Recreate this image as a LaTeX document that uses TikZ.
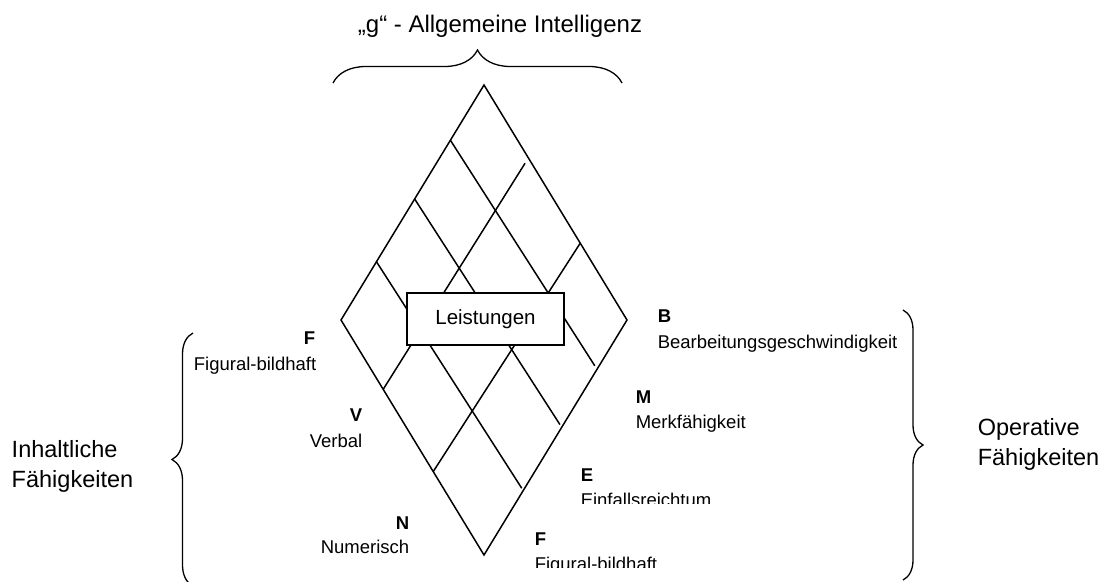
\documentclass[tikz,border=0pt]{standalone}
\usepackage{fontspec}
\setmainfont{Liberation Sans}
\usetikzlibrary{calc,decorations.pathreplacing,positioning}

\begin{document}
\begin{tikzpicture}[x=1pt, y=-1pt, line width=1.5pt,
  letter/.style = {inner sep=0pt, font=\fontsize{18.5}{25}\selectfont\bfseries},
  ability/.style = {inner sep=0pt, font=\fontsize{18.5}{25}\selectfont},
  group/.style = {inner sep=0pt, align=left, font=\fontsize{23.5}{30}\selectfont},
  bracket/.style = {decorate, decoration={brace, amplitude=#1}}]

  \useasboundingbox (0,0) rectangle (1102,581);

  \coordinate (t) at (484,85);
  \coordinate (r) at (627,320);
  \coordinate (b) at (484,555);
  \coordinate (l) at (341,320);

  \draw (t) -- (r) -- (b) -- (l) -- cycle;

  % grid inside the rhombus, u along t-r, v along t-l
  \begin{scope}[shift={(t)}, x={(143pt,-235pt)}, y={(-143pt,-235pt)}]
    \draw (0,0.235) -- (0.985,0.21) (0,0.485) -- (0.988,0.457) (0,0.752) -- (0.99,0.726);
    \draw (0.31,0.023) -- (0.295,1) (0.673,0) -- (0.645,1);
  \end{scope}

  \node[draw, fill=white, minimum width=157, minimum height=52,
        font=\fontsize{20.5}{25}\selectfont] (perf) at (485.5,319) {Leistungen};

  \node[anchor=base, font=\fontsize{24}{30}\selectfont] (g) at (500,32) {„g“ - Allgemeine Intelligenz};
  \draw[bracket=33pt, line width=1.3pt] (333,83) -- (622,83);

  \node[group, anchor=north west] (content) at (11,440) {Inhaltliche\\Fähigkeiten};
  \draw[bracket=21pt, line width=1.3pt] (193,586) -- (193,333);

  \node[group, anchor=north west] (operative) at (977,418) {Operative\\Fähigkeiten};
  \draw[bracket=20pt, line width=1.3pt] (903,310) -- (903,580);

  \node[letter, anchor=base east] (inF) at (316,344) {F};
  \node[ability, anchor=base east] (inFtext) at (317,370) {Figural-bildhaft};
  \node[letter, anchor=base east] (inV) at (363,421) {V};
  \node[ability, anchor=base east] (inVtext) at (363,447) {Verbal};
  \node[letter, anchor=base east] (inN) at (410,529) {N};
  \node[ability, anchor=base east] (inNtext) at (410,553) {Numerisch};

  \node[letter, anchor=base west] (opB) at (657,322) {B};
  \node[ability, anchor=base west] (opBtext) at (657,348) {Bearbeitungsgeschwindigkeit};
  \node[letter, anchor=base west] (opM) at (635,403) {M};
  \node[letter, anchor=base west] (opE) at (580,481) {E};
  \node[letter, anchor=base west] (opF) at (534,545) {F};
  \begin{scope}
    \clip (600,405) rectangle (800,431);
    \node[ability, anchor=base west] (opMtext) at (635,428) {Merkfähigkeit};
  \end{scope}
  \begin{scope}
    \clip (560,485) rectangle (800,503);
    \node[ability, anchor=base west] (opEtext) at (580,506) {Einfallsreichtum};
  \end{scope}
  \begin{scope}
    \clip (520,550) rectangle (800,567);
    \node[ability, anchor=base west] (opFtext) at (534,570) {Figural-bildhaft};
  \end{scope}
\end{tikzpicture}
\end{document}
